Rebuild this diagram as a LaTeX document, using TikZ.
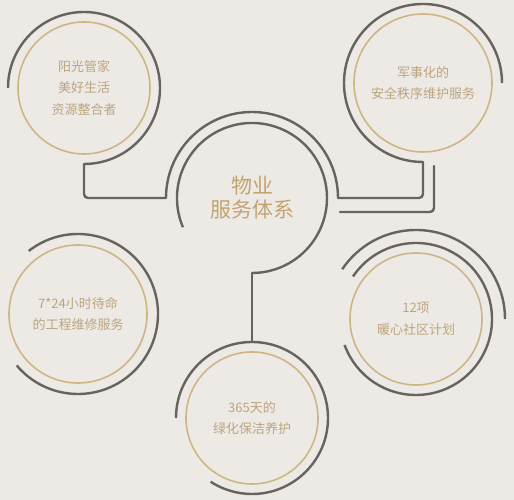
\documentclass[tikz,border=0pt]{standalone}
\usepackage{fontspec}
\newfontfamily\cjk{Noto Sans CJK SC}
\usetikzlibrary{calc}
\definecolor{bgc}{HTML}{EDEAE6}
\definecolor{greyline}{HTML}{67635F}
\definecolor{goldring}{HTML}{CDB683}
\definecolor{goldtext}{HTML}{BCA57E}
\definecolor{goldtitle}{HTML}{C2A46E}
\tikzset{
  ring/.style={circle, draw=goldring, line width=1.6pt, inner sep=0pt, align=center,
    text=goldtext, font=\cjk\fontsize{13}{21.5}\selectfont},
  arcline/.style={draw=greyline, line width=2.4pt},
  conn/.style={draw=greyline, line width=2.4pt, rounded corners=4pt, line cap=round},
  title/.style={align=center, text=goldtitle, font=\cjk\fontsize{21}{24}\selectfont}
}
\begin{document}
\begin{tikzpicture}[x=1pt,y=1pt]
\useasboundingbox (0,0) rectangle (514,500);
\fill[bgc] (0,0) rectangle (514,500);
% circles
\node[ring, minimum size=132pt] (tl) at (84,412) {阳光管家\\美好生活\\资源整合者};
\node[ring, minimum size=138pt] (tr) at (423,417) {军事化的\\安全秩序维护服务};
\node[ring, minimum size=138pt] (ml) at (78,186) {7*24小时待命\\的工程维修服务};
\node[ring, minimum size=132pt] (mr) at (416,181) {12项\\暖心社区计划};
\node[ring, minimum size=132pt] (bc) at (252,82) {365天的\\绿化保洁养护};
\node[title] (c) at (252,302) {物业\\服务体系};
% arc end points
\coordinate (tlb) at ($(tl.center)+(-90:76)$);
\coordinate (cl) at ($(c.center)+(180:86)$);
\coordinate (cr) at ($(c.center)+(0:86)$);
\coordinate (trb) at ($(tr.center)+(270:79)$);
\coordinate (cb) at ($(c.center)+(-90:75)$);
\coordinate (bt) at ($(bc.center)+(90:76)$);
\coordinate (xa) at (340,288);
\coordinate (xb) at (434,334);
% grey arcs
\draw[arcline] ($(tl.center)+(180:76)$) arc[start angle=180, end angle=-90, radius=76];
\draw[arcline] (trb) arc[start angle=270, end angle=0, radius=79];
\draw[arcline] ($(ml.center)+(128:80)$) arc[start angle=128, end angle=-140, radius=80];
\draw[arcline] ($(mr.center)+(146:76)$) arc[start angle=146, end angle=-160, radius=76];
\draw[arcline] ($(mr.center)+(146:89)$) arc[start angle=146, end angle=0, radius=89];
\draw[arcline] ($(bc.center)+(180:76)$) arc[start angle=180, end angle=-123, radius=76];
\draw[arcline] ($(c.center)+(203:75)$) arc[start angle=203, end angle=-90, radius=75];
\draw[arcline] (cl) arc[start angle=180, end angle=0, radius=86];
% connectors
\draw[conn] (tlb) |- (cl);
\draw[conn] (cr) -| (trb);
\draw[conn] (cb) -- (bt);
\draw[conn] (xa) -| (xb);
\end{tikzpicture}
\end{document}
